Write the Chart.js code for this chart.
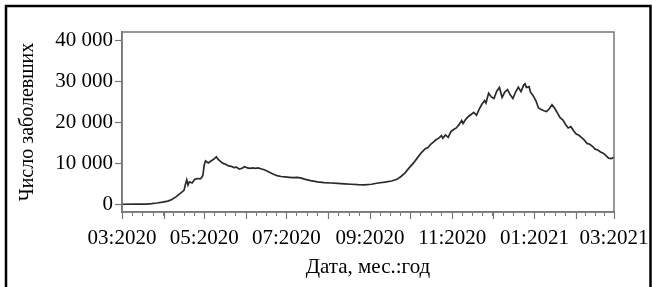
<!DOCTYPE html>
<html>
<head>
<meta charset="utf-8">
<script src="https://cdn.jsdelivr.net/npm/chart.js@4.4.1/dist/chart.umd.min.js"></script>
<style>
  html, body { margin: 0; padding: 0; background: #fff; }
  #wrap { width: 652px; height: 287px; }
</style>
</head>
<body>
<div id="wrap"><canvas id="lineChart" width="652" height="287"></canvas></div>
<script>
// days counted from 1 March 2020
const days = [0, 10, 18, 22, 26, 30, 34, 37, 40, 43, 46, 47, 48, 49, 50, 52, 54, 56, 58, 59,
  60, 61, 62, 64, 66, 68, 70, 71, 73, 75, 77, 79, 81, 83, 85, 87, 89, 91, 93, 95,
  97, 99, 101, 103, 106, 109, 112, 115, 118, 121, 124, 127, 130, 133, 136, 140, 145, 150, 155, 160,
  165, 170, 175, 180, 185, 190, 195, 200, 204, 207, 210, 213, 216, 219, 222, 225, 227, 229, 231, 233,
  235, 237, 238, 240, 242, 244, 246, 248, 250, 252, 253, 255, 257, 259, 261, 263, 265, 267, 269, 270,
  272, 274, 276, 278, 280, 282, 284, 286, 288, 290, 292, 294, 296, 298, 299, 300, 302, 303, 305, 307,
  309, 311, 313, 315, 317, 319, 321, 323, 325, 327, 329, 331, 333, 335, 337, 339, 341, 343, 345, 347,
  349, 351, 353, 355, 357, 359, 361, 363, 365];
const cases = [0, 10, 50, 150, 300, 500, 770, 1150, 1800, 2600, 3400, 4800, 6000, 4700, 5500, 5200, 6100, 6300, 6200, 6500,
  7100, 9600, 10600, 10100, 10600, 11000, 11600, 11100, 10500, 10000, 9800, 9400, 9300, 9000, 9100, 8600, 8800, 9200, 8900, 8800,
  8900, 8800, 8900, 8700, 8400, 7900, 7400, 7000, 6800, 6700, 6600, 6500, 6600, 6400, 6100, 5800, 5500, 5300, 5200, 5100,
  5000, 4900, 4800, 4750, 4900, 5200, 5400, 5700, 6100, 6800, 7700, 8900, 10000, 11300, 12600, 13600, 13900, 14700, 15200, 15800,
  16200, 16800, 16200, 17000, 16400, 17800, 18300, 18700, 19500, 20500, 19800, 20800, 21500, 22000, 22500, 21800, 23300, 24500, 25400, 24800,
  27200, 26300, 25900, 27700, 28600, 26200, 27500, 28100, 26800, 25900, 27500, 28700, 27600, 29200, 29500, 28600, 28800, 27500, 26600, 25400,
  23600, 23200, 22900, 22700, 23400, 24400, 23500, 22400, 21200, 20700, 19600, 18700, 19000, 18000, 17200, 16900, 16300, 15700, 14900, 14700,
  14200, 13500, 13300, 12800, 12500, 11900, 11300, 11200, 11500];

const monthStarts = [0, 31, 61, 92, 122, 153, 184, 214, 245, 275, 306, 337, 365];
const monthLabels = ['03:2020', '04:2020', '05:2020', '06:2020', '07:2020', '08:2020', '09:2020',
  '10:2020', '11:2020', '12:2020', '01:2021', '02:2021', '03:2021'];
const yTicks = [0, 10000, 20000, 30000, 40000];

const serif = 'Liberation Serif';
const axisGray = '#777';

// monthly ticks plus three in between
const xTicks = [];
for (let i = 0; i < monthStarts.length - 1; i++) {
  const a = monthStarts[i], b = monthStarts[i + 1];
  for (let k = 0; k < 4; k++) xTicks.push(a + (b - a) * k / 4);
}
xTicks.push(365);

const frame = {
  id: 'frame',
  afterDraw(chart) {
    const { ctx, chartArea: ca } = chart;
    ctx.save();
    // outer black frame (no bottom edge)
    ctx.strokeStyle = '#000';
    ctx.lineWidth = 2.5;
    ctx.beginPath();
    ctx.moveTo(6, 290);
    ctx.lineTo(6, 6);
    ctx.lineTo(650.5, 6);
    ctx.lineTo(650.5, 290);
    ctx.stroke();
    // plot box
    ctx.strokeStyle = axisGray;
    ctx.lineWidth = 1.5;
    ctx.strokeRect(ca.left, ca.top, ca.right - ca.left, ca.bottom - ca.top);
    // longer ticks at month starts
    const x = chart.scales.x;
    ctx.lineWidth = 1.2;
    ctx.beginPath();
    monthStarts.forEach(d => {
      const px = Math.round(x.getPixelForValue(d)) + 0.5;
      ctx.moveTo(px, ca.bottom);
      ctx.lineTo(px, ca.bottom + 7);
    });
    ctx.stroke();
    ctx.restore();
  }
};

new Chart(document.getElementById('lineChart').getContext('2d'), {
  type: 'line',
  data: {
    datasets: [{
      data: days.map((d, i) => ({ x: d, y: cases[i] })),
      borderColor: '#2a2a2a',
      borderWidth: 1.7,
      pointRadius: 0,
      tension: 0
    }]
  },
  options: {
    responsive: false,
    animation: false,
    layout: { padding: { left: 6, top: 32, right: 38, bottom: 0 } },
    plugins: { legend: { display: false }, tooltip: { enabled: false } },
    scales: {
      x: {
        type: 'linear',
        min: 0,
        max: 365,
        afterBuildTicks: s => { s.ticks = xTicks.map(v => ({ value: v })); },
        afterFit: s => { s.height = 75; s.paddingLeft = 0; s.paddingRight = 0; },
        grid: { drawOnChartArea: false, tickLength: 4, tickColor: axisGray, tickWidth: 1 },
        border: { color: axisGray, width: 1.5 },
        ticks: {
          autoSkip: false,
          maxRotation: 0,
          padding: 10,
          color: '#000',
          font: { family: serif, size: 21 },
          callback: v => {
            const i = monthStarts.indexOf(v);
            return i >= 0 && i % 2 === 0 ? monthLabels[i] : '';
          }
        },
        title: {
          display: true,
          text: 'Дата, мес.:год',
          color: '#000',
          font: { family: serif, size: 21 },
          padding: { top: 0, bottom: 7 }
        }
      },
      y: {
        min: -1900,
        max: 42200,
        afterBuildTicks: s => { s.ticks = yTicks.map(v => ({ value: v })); },
        afterFit: s => { s.width = 116; s.paddingTop = 0; s.paddingBottom = 0; },
        grid: { drawOnChartArea: false, tickLength: 7, tickColor: axisGray, tickWidth: 1.2 },
        border: { color: axisGray, width: 1.5 },
        ticks: {
          padding: 2,
          color: '#000',
          font: { family: serif, size: 21 },
          callback: v => v === 0 ? '0' : (v / 1000) + ' 000'
        },
        title: {
          display: true,
          text: 'Число заболевших',
          color: '#000',
          font: { family: serif, size: 20 },
          padding: { top: 10, bottom: 0 }
        }
      }
    }
  },
  plugins: [frame]
});
</script>
</body>
</html>
